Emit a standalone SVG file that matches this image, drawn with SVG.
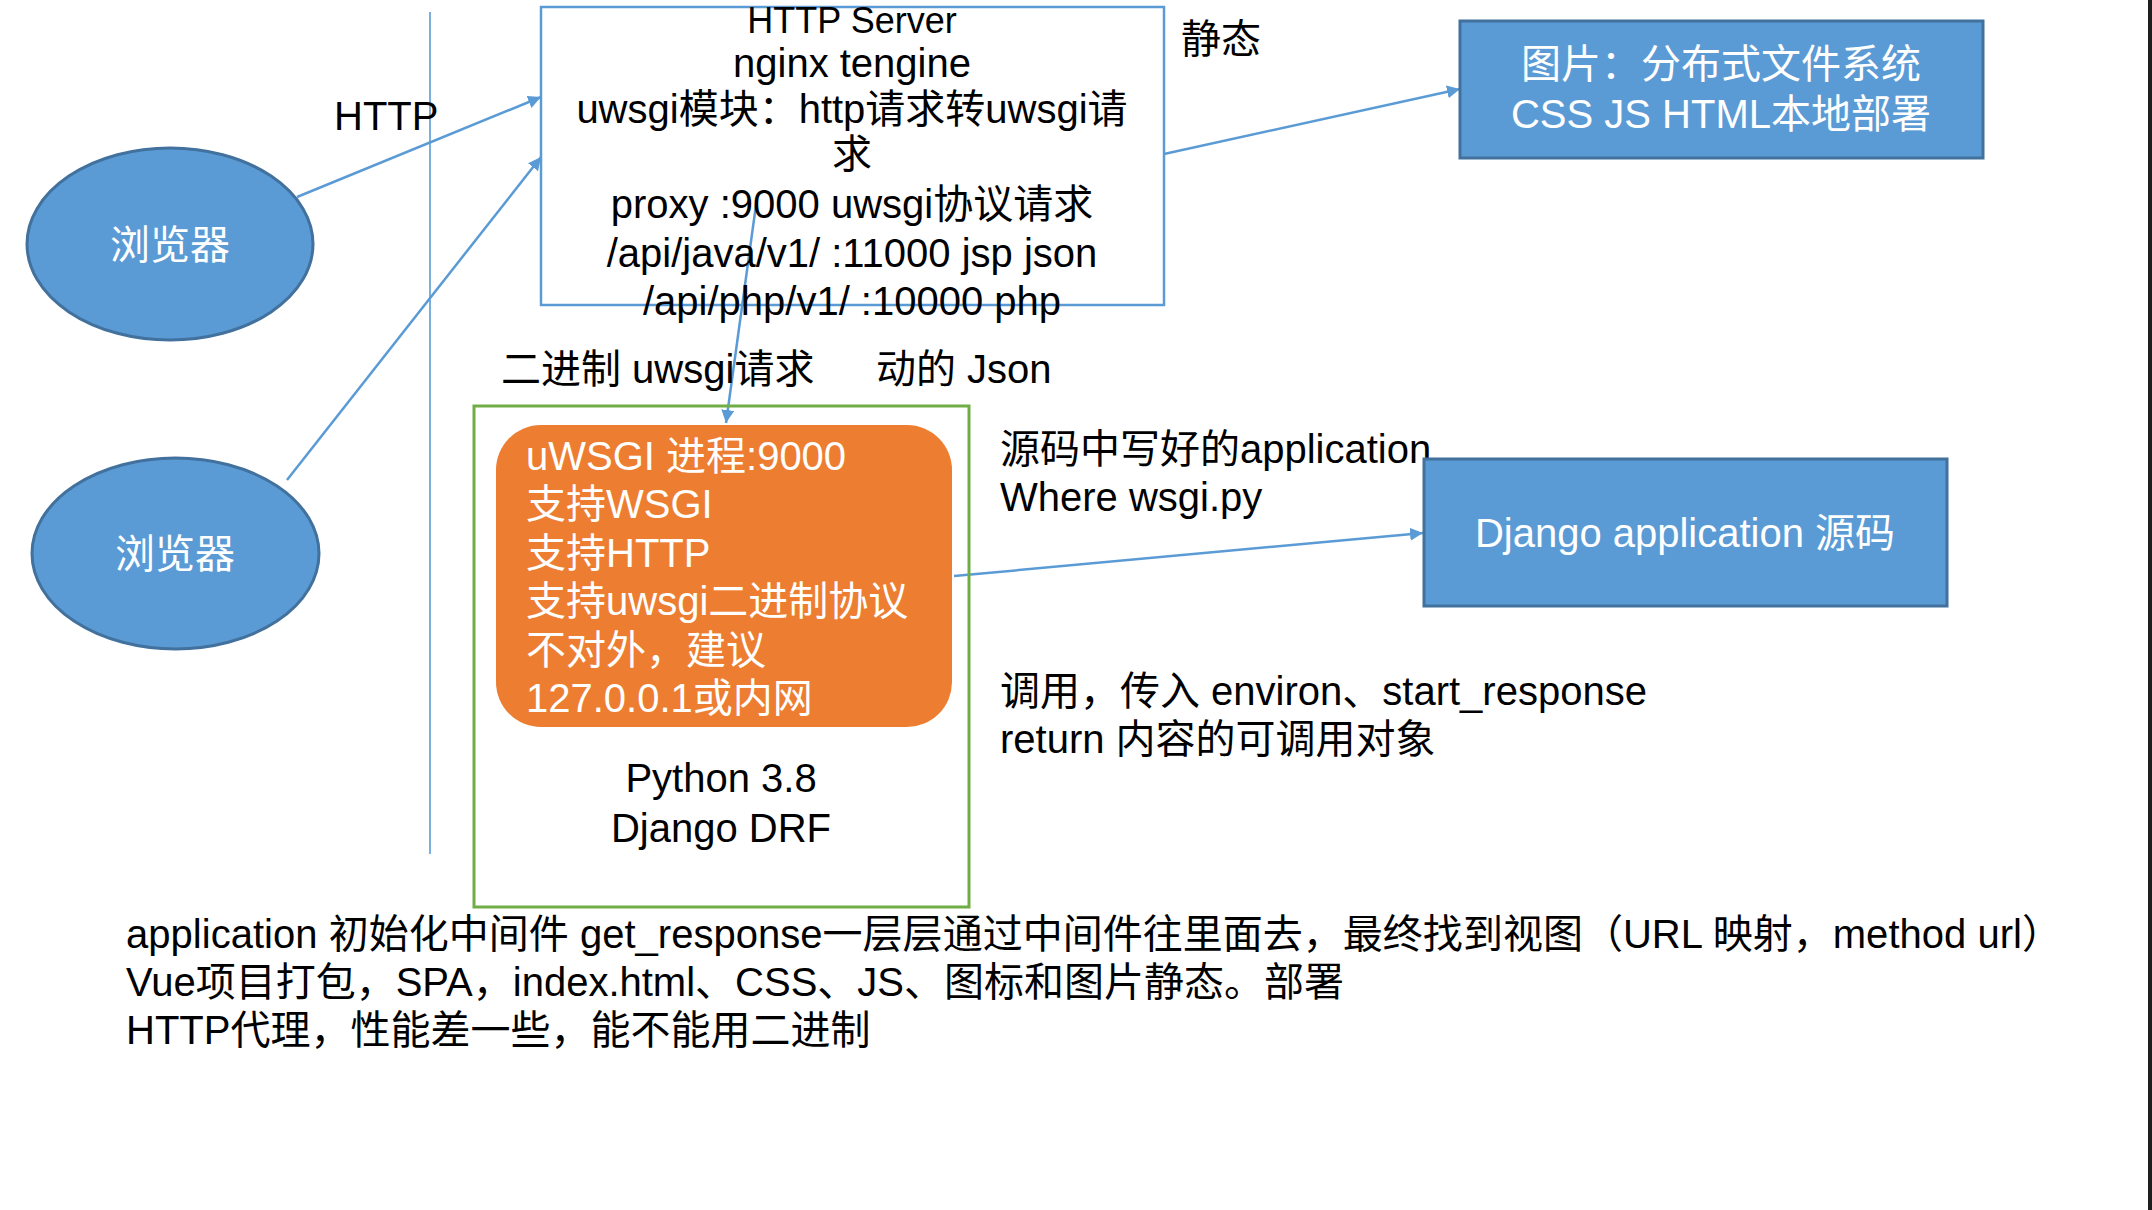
<svg xmlns="http://www.w3.org/2000/svg" width="2152" height="1210" viewBox="0 0 2152 1210">
<style>
text{font-family:"Liberation Sans","Noto Sans CJK SC",sans-serif;font-size:40px;fill:#000}
.w{fill:#fff}
.c{text-anchor:middle}
.conn{stroke:#5B9BD5;stroke-width:2.5;fill:none}
.blue{fill:#5B9BD5;stroke:#41719C;stroke-width:3}
</style>
<defs>
<marker id="ah" markerUnits="userSpaceOnUse" markerWidth="14" markerHeight="14" refX="13" refY="6.5" orient="auto">
<path d="M0,0 L13,6.5 L0,13 z" fill="#5B9BD5"/>
</marker>
</defs>
<rect width="2152" height="1210" fill="#fff"/>
<rect x="2148" y="0" width="4" height="1210" fill="#1e1e1e"/>

<g id="connectors">
<line x1="430" y1="12" x2="430" y2="854" stroke="#5B9BD5" stroke-width="1.6"/>
<line class="conn" x1="297" y1="197" x2="541" y2="97" marker-end="url(#ah)"/>
<line class="conn" x1="287" y1="480" x2="541" y2="157" stroke-width="1.8" marker-end="url(#ah)"/>
<line class="conn" x1="1164" y1="154" x2="1460" y2="89" marker-end="url(#ah)"/>
<line class="conn" x1="756" y1="205" x2="726" y2="423" marker-end="url(#ah)"/>
<line class="conn" x1="954" y1="576" x2="1423" y2="533" marker-end="url(#ah)"/>
</g>

<g id="browser1">
<ellipse class="blue" cx="170" cy="244" rx="143" ry="96" stroke-width="2.5"/>
<text class="w c" x="170" y="259">浏览器</text>
</g>
<g id="browser2">
<ellipse class="blue" cx="175.5" cy="553.5" rx="143.5" ry="95.5" stroke-width="2.5"/>
<text class="w c" x="175" y="568">浏览器</text>
</g>

<g id="http-label"><text x="334" y="130">HTTP</text></g>

<g id="http-server">
<rect x="541" y="7" width="623" height="298" fill="none" stroke="#5B9BD5" stroke-width="2.5"/>
<text class="c" x="852" y="33" style="font-size:36px">HTTP Server</text>
<text class="c" x="852" y="77">nginx tengine</text>
<text class="c" x="852" y="123">uwsgi模块：http请求转uwsgi请</text>
<text class="c" x="852" y="168">求</text>
<text class="c" x="852" y="218">proxy :9000 uwsgi协议请求</text>
<text class="c" x="852" y="267">/api/java/v1/ :11000 jsp json</text>
<text class="c" x="852" y="315">/api/php/v1/ :10000 php</text>
</g>

<g id="static-label"><text x="1181" y="53">静态</text></g>

<g id="static-box">
<rect class="blue" x="1460" y="21" width="523" height="137"/>
<text class="w c" x="1721" y="78">图片：分布式文件系统</text>
<text class="w c" x="1721" y="128">CSS JS HTML本地部署</text>
</g>

<g id="labels-mid">
<text x="501" y="383">二进制 uwsgi请求</text>
<text x="876" y="383">动的 Json</text>
</g>

<g id="python-box">
<rect x="474" y="406" width="495" height="501" fill="none" stroke="#70AD47" stroke-width="3"/>
<text class="c" x="721" y="792">Python 3.8</text>
<text class="c" x="721" y="842">Django DRF</text>
</g>

<g id="uwsgi">
<rect x="496" y="425" width="456" height="302" rx="45" ry="45" fill="#ED7D31"/>
<text class="w" x="526" y="470">uWSGI 进程:9000</text>
<text class="w" x="526" y="518">支持WSGI</text>
<text class="w" x="526" y="567">支持HTTP</text>
<text class="w" x="526" y="615">支持uwsgi二进制协议</text>
<text class="w" x="526" y="664">不对外，建议</text>
<text class="w" x="526" y="712">127.0.0.1或内网</text>
</g>

<g id="app-labels">
<text x="1000" y="463">源码中写好的application</text>
<text x="1000" y="511">Where wsgi.py</text>
<text x="1000" y="705">调用，传入 environ、start_response</text>
<text x="1000" y="753">return 内容的可调用对象</text>
</g>

<g id="django-box">
<rect class="blue" x="1424" y="459" width="523" height="147"/>
<text class="w c" x="1685" y="547">Django application 源码</text>
</g>

<g id="notes">
<text x="126" y="948" textLength="1936" lengthAdjust="spacing">application 初始化中间件 get_response一层层通过中间件往里面去，最终找到视图（URL 映射，method url）</text>
<text x="126" y="996">Vue项目打包，SPA，index.html、CSS、JS、图标和图片静态。部署</text>
<text x="126" y="1044">HTTP代理，性能差一些，能不能用二进制</text>
</g>
</svg>
